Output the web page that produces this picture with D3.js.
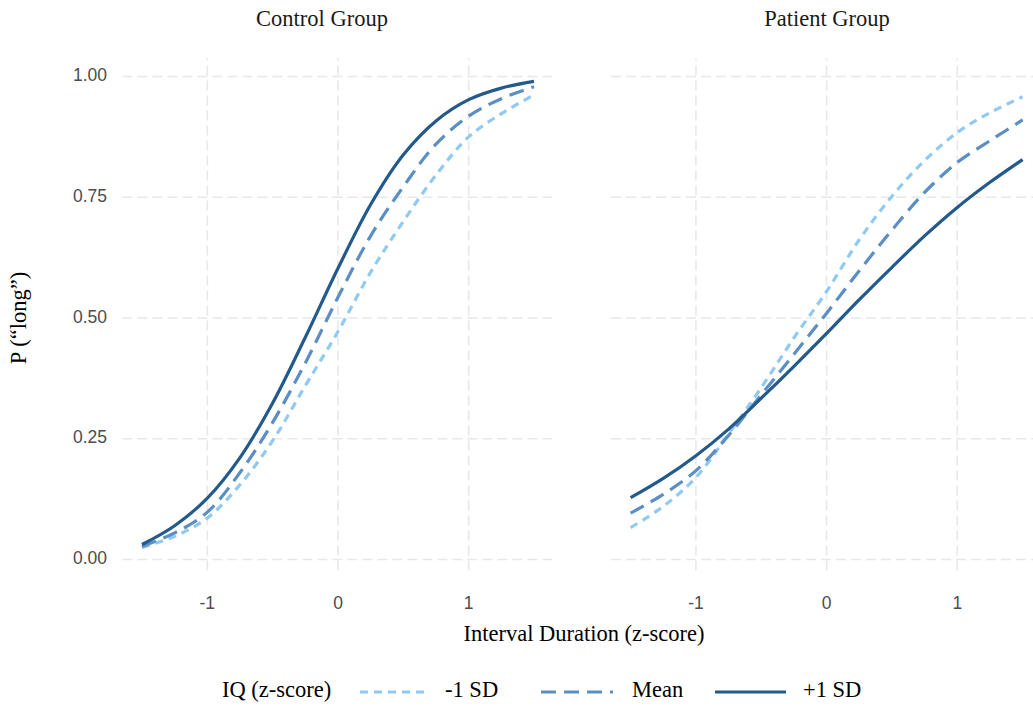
<!DOCTYPE html>
<html>
<head>
<meta charset="utf-8">
<script src="https://cdn.jsdelivr.net/npm/d3@7"></script>
<style>
  html, body { margin: 0; padding: 0; background: #fff; overflow: hidden; }
  svg { display: block; }
</style>
</head>
<body>
<svg id="chart" width="1033" height="707"></svg>
<script>
// ---------------- data ----------------
const xValues = [-1.5, -1.25, -1, -0.75, -0.5, -0.25, 0, 0.25, 0.5, 0.75, 1, 1.25, 1.5];
const groups = ["Control Group", "Patient Group"];
const iqLevels = ["-1 SD", "Mean", "+1 SD"];

const controlMinus1SD = [0.025, 0.048, 0.086, 0.155, 0.246, 0.360, 0.472, 0.595, 0.700, 0.796, 0.875, 0.923, 0.962];
const controlMean     = [0.027, 0.055, 0.098, 0.180, 0.284, 0.407, 0.543, 0.670, 0.772, 0.860, 0.918, 0.954, 0.979];
const controlPlus1SD  = [0.031, 0.070, 0.127, 0.211, 0.324, 0.460, 0.603, 0.735, 0.838, 0.908, 0.952, 0.976, 0.990];

const patientMinus1SD = [0.066, 0.110, 0.170, 0.260, 0.356, 0.459, 0.555, 0.662, 0.752, 0.826, 0.884, 0.925, 0.958];
const patientMean     = [0.096, 0.135, 0.184, 0.257, 0.341, 0.425, 0.510, 0.598, 0.682, 0.760, 0.822, 0.867, 0.910];
const patientPlus1SD  = [0.128, 0.168, 0.215, 0.270, 0.334, 0.400, 0.468, 0.538, 0.605, 0.670, 0.729, 0.781, 0.828];

const xTicks = [-1, 0, 1];
const yTicks = [0, 0.25, 0.5, 0.75, 1];
const yTickLabels = ["0.00", "0.25", "0.50", "0.75", "1.00"];

const seriesByGroup = {
  "Control Group": [controlMinus1SD, controlMean, controlPlus1SD],
  "Patient Group": [patientMinus1SD, patientMean, patientPlus1SD]
};

// ---------------- styles ----------------
const colors = ["#90c9f2", "#5b8fc4", "#225a8c"];
const dashes = ["8,6", "15,8", null];
const serif = "'Liberation Serif', 'Times New Roman', Times, serif";
const sans = "'Liberation Sans', Arial, Helvetica, sans-serif";
const serifSize = 22.5;
const tickSize = 17.5;

const svg = d3.select("#chart");

const xDomain = [-1.65, 1.65];
const panelRanges = [[122.4, 553.6], [611, 1042.2]];
const titleCenters = [322, 827];
const y = d3.scaleLinear().domain([0, 1]).range([559.5, 76.5]);
const yDom = [-0.023, 1.038];

groups.forEach((g, gi) => {
  const x = d3.scaleLinear().domain(xDomain).range(panelRanges[gi]);
  const panel = svg.append("g");

  // grid lines
  panel.selectAll(".hgrid").data(yTicks).enter().append("line")
    .attr("x1", x(xDomain[0])).attr("x2", x(xDomain[1]))
    .attr("y1", d => y(d)).attr("y2", d => y(d))
    .attr("stroke", "#e8e8e8").attr("stroke-width", 1.6)
    .attr("stroke-dasharray", "10,5");
  panel.selectAll(".vgrid").data(xTicks).enter().append("line")
    .attr("x1", d => x(d)).attr("x2", d => x(d))
    .attr("y1", y(yDom[0])).attr("y2", y(yDom[1]))
    .attr("stroke", "#e8e8e8").attr("stroke-width", 1.6)
    .attr("stroke-dasharray", "10,5");

  // x axis tick labels
  panel.selectAll(".xt").data(xTicks).enter().append("text")
    .attr("x", d => x(d)).attr("y", 604)
    .attr("text-anchor", "middle").attr("dominant-baseline", "middle")
    .attr("font-family", sans).attr("font-size", tickSize).attr("fill", "#4d4d4d")
    .text(d => String(d));

  // facet title
  panel.append("text")
    .attr("x", titleCenters[gi])
    .attr("y", 21)
    .attr("text-anchor", "middle").attr("dominant-baseline", "middle")
    .attr("font-family", serif).attr("font-size", serifSize).attr("fill", "#1a1a1a")
    .text(g);

  // curves
  const line = d3.line()
    .x((d, i) => x(xValues[i]))
    .y(d => y(d))
    .curve(d3.curveCatmullRom.alpha(0.5));
  seriesByGroup[g].forEach((vals, si) => {
    const p = panel.append("path")
      .datum(vals)
      .attr("d", line)
      .attr("fill", "none")
      .attr("stroke", colors[si])
      .attr("stroke-width", 3.2)
      .attr("stroke-linecap", "butt");
    if (dashes[si]) p.attr("stroke-dasharray", dashes[si]);
  });
});

// y tick labels
svg.selectAll(".yt").data(yTicks).enter().append("text")
  .attr("x", 107).attr("y", d => y(d))
  .attr("text-anchor", "end").attr("dominant-baseline", "middle")
  .attr("font-family", sans).attr("font-size", tickSize).attr("fill", "#4d4d4d")
  .text((d, i) => yTickLabels[i]);

// axis titles
svg.append("text")
  .attr("transform", `translate(21, ${y(0.5)}) rotate(-90)`)
  .attr("text-anchor", "middle").attr("dominant-baseline", "middle")
  .attr("font-family", serif).attr("font-size", serifSize).attr("fill", "#000")
  .text("P (\u201Clong\u201D)");

svg.append("text")
  .attr("x", 584).attr("y", 636)
  .attr("text-anchor", "middle").attr("dominant-baseline", "middle")
  .attr("font-family", serif).attr("font-size", serifSize).attr("fill", "#000")
  .text("Interval Duration (z-score)");

// legend
const legY = 692;
const legend = svg.append("g");
legend.append("text")
  .attr("x", 222).attr("y", legY)
  .attr("dominant-baseline", "middle")
  .attr("font-family", serif).attr("font-size", serifSize).attr("fill", "#000")
  .text("IQ (z-score)");
const legItems = [
  { x1: 360, x2: 430, tx: 445 },
  { x1: 541, x2: 613, tx: 632 },
  { x1: 715, x2: 786, tx: 803 }
];
iqLevels.forEach((lab, i) => {
  const it = legItems[i];
  const l = legend.append("line")
    .attr("x1", it.x1).attr("x2", it.x2).attr("y1", legY).attr("y2", legY)
    .attr("stroke", colors[i]).attr("stroke-width", 3.2);
  if (dashes[i]) l.attr("stroke-dasharray", dashes[i]);
  legend.append("text")
    .attr("x", it.tx).attr("y", legY)
    .attr("dominant-baseline", "middle")
    .attr("font-family", serif).attr("font-size", serifSize).attr("fill", "#000")
    .text(lab);
});
</script>
</body>
</html>
